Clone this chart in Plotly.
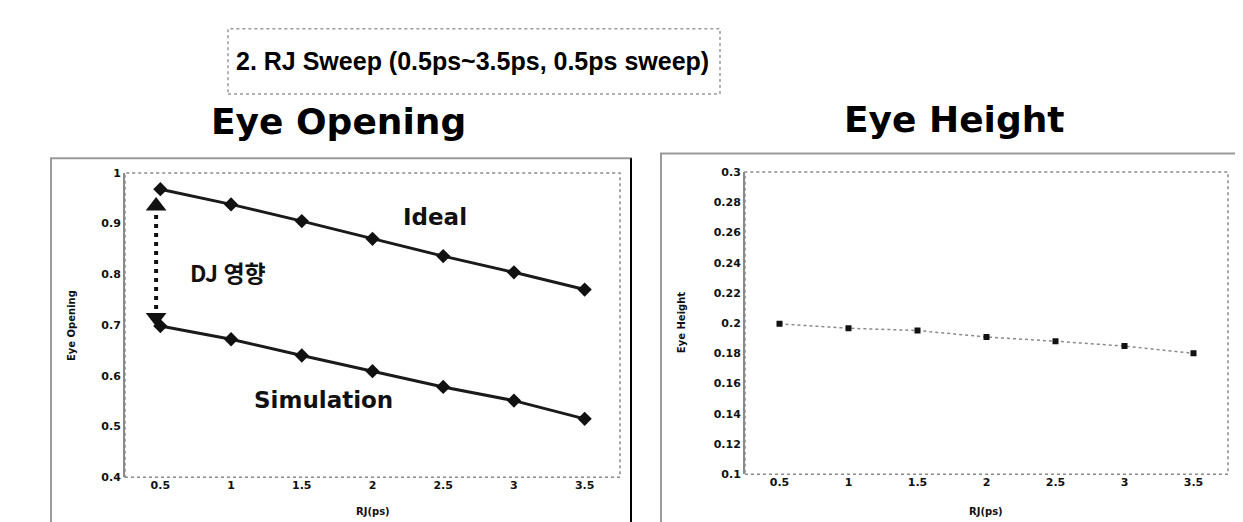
import plotly.graph_objects as go

# ---- data ----
rj_ps = [0.5, 1.0, 1.5, 2.0, 2.5, 3.0, 3.5]
eye_opening_ideal = [0.968, 0.938, 0.905, 0.870, 0.836, 0.804, 0.770]
eye_opening_sim = [0.698, 0.672, 0.640, 0.609, 0.578, 0.551, 0.515]
eye_height = [0.1995, 0.1966, 0.1951, 0.1908, 0.1880, 0.1848, 0.1800]
x_tick_labels = ["0.5", "1", "1.5", "2", "2.5", "3", "3.5"]

W, H = 1243, 522
def px(x):
    return x / W
def py(y):
    return (H - y) / H

fig = go.Figure()

# Left: Eye Opening
fig.add_trace(go.Scatter(x=rj_ps, y=eye_opening_ideal, mode="lines+markers",
                         line=dict(color="#1a1a1a", width=3),
                         marker=dict(symbol="diamond", size=11, color="#111"),
                         xaxis="x", yaxis="y", showlegend=False))
fig.add_trace(go.Scatter(x=rj_ps, y=eye_opening_sim, mode="lines+markers",
                         line=dict(color="#1a1a1a", width=3),
                         marker=dict(symbol="diamond", size=11, color="#111"),
                         xaxis="x", yaxis="y", showlegend=False))

# DJ arrow (derived from first points of the two series)
ax = rj_ps[0] - 0.03
arrow_top = eye_opening_ideal[0] - 0.033
arrow_bot = eye_opening_sim[0] + 0.017
fig.add_trace(go.Scatter(x=[ax, ax], y=[arrow_top, arrow_bot], mode="lines",
                         line=dict(color="#111", width=4, dash="4px,5px"),
                         xaxis="x", yaxis="y", showlegend=False))
fig.add_trace(go.Scatter(x=[ax, ax], y=[arrow_top, arrow_bot], mode="markers",
                         marker=dict(symbol=["triangle-up", "triangle-down"], size=18, color="#111"),
                         xaxis="x", yaxis="y", showlegend=False))

# Right: Eye Height
fig.add_trace(go.Scatter(x=rj_ps, y=eye_height, mode="lines+markers",
                         line=dict(color="#8a8a8a", width=1.5, dash="dot"),
                         marker=dict(symbol="square", size=6, color="#111"),
                         xaxis="x2", yaxis="y2", showlegend=False))

tickfont = dict(family="DejaVu Sans", size=11, color="#111", weight="bold")
common_x = dict(range=[0.25, 3.75], tickvals=rj_ps, ticktext=x_tick_labels,
                showgrid=False, zeroline=False, showline=False, ticks="",
                tickfont=tickfont, ticklen=0)

fig.update_layout(
    width=W, height=H,
    margin=dict(l=0, r=0, t=0, b=0),
    paper_bgcolor="white", plot_bgcolor="white",
    xaxis=dict(domain=[px(117), px(612)], anchor="y", **common_x),
    yaxis=dict(domain=[py(475), py(163)], anchor="x", range=[0.4, 1.0], dtick=0.1,
               showgrid=False, zeroline=False, showline=True, linecolor="#8a8a8a", linewidth=2,
               ticks="", tickfont=tickfont),
    xaxis2=dict(domain=[px(737), px(1220)], anchor="y2", **common_x),
    yaxis2=dict(domain=[py(472), py(162)], anchor="x2", range=[0.1, 0.3], dtick=0.02,
                showgrid=False, zeroline=False, showline=True, linecolor="#8a8a8a", linewidth=2,
                ticks="", tickfont=tickfont),
)

shapes = []
# plot area dotted frames
for xr, yr in (("x domain", "y domain"), ("x2 domain", "y2 domain")):
    shapes.append(dict(type="rect", xref=xr, yref=yr, x0=0, x1=1, y0=0, y1=1,
                       line=dict(color="#8a8a8a", width=1.5, dash="dot")))
# panel boxes
shapes.append(dict(type="rect", xref="paper", yref="paper", x0=px(43), x1=px(623),
                   y0=-0.05, y1=py(148), line=dict(color="#9a9a9a", width=2)))
shapes.append(dict(type="line", xref="paper", yref="paper", x0=px(623), x1=px(623),
                   y0=-0.05, y1=py(148), line=dict(color="#000", width=2)))
shapes.append(dict(type="rect", xref="paper", yref="paper", x0=px(653), x1=px(1232),
                   y0=-0.05, y1=py(143), line=dict(color="#9a9a9a", width=2)))
# title box
shapes.append(dict(type="rect", xref="paper", yref="paper", x0=px(220), x1=px(712),
                   y0=py(82), y1=py(15), line=dict(color="#9a9a9a", width=1.5, dash="dot")))
fig.update_layout(shapes=shapes)

big = dict(family="DejaVu Sans", size=36, color="#000")
small = dict(family="DejaVu Sans", size=10, color="#111")
ann = [
    dict(text="<b>2. RJ Sweep (0.5ps~3.5ps, 0.5ps sweep)</b>", x=px(464), y=py(48),
         font=dict(family="Liberation Sans", size=25, color="#000")),
    dict(text="<b>Eye Opening</b>", x=px(330), y=py(110), font=big),
    dict(text="<b>Eye Height</b>", x=px(946), y=py(108), font=big),
    dict(text="<b>Eye Opening</b>", x=px(63), y=py(320), textangle=-90, font=small),
    dict(text="<b>Eye Height</b>", x=px(673), y=py(316), textangle=-90, font=small),
    dict(text="<b>RJ(ps)</b>", x=px(365), y=py(510), font=small),
    dict(text="<b>RJ(ps)</b>", x=px(978), y=py(510), font=small),
    dict(text="<b>Ideal</b>", x=px(427), y=py(208),
         font=dict(family="DejaVu Sans", size=23, color="#111")),
    dict(text="<b>DJ 영향</b>", x=px(220), y=py(265),
         font=dict(family="Noto Sans CJK KR", size=23, color="#111")),
    dict(text="<b>Simulation</b>", x=px(315), y=py(396),
         font=dict(family="DejaVu Sans", size=23, color="#111")),
]
for a in ann:
    a.update(xref="paper", yref="paper", showarrow=False, xanchor="center", yanchor="middle")
fig.update_layout(annotations=ann)

fig.write_html("out.html")
